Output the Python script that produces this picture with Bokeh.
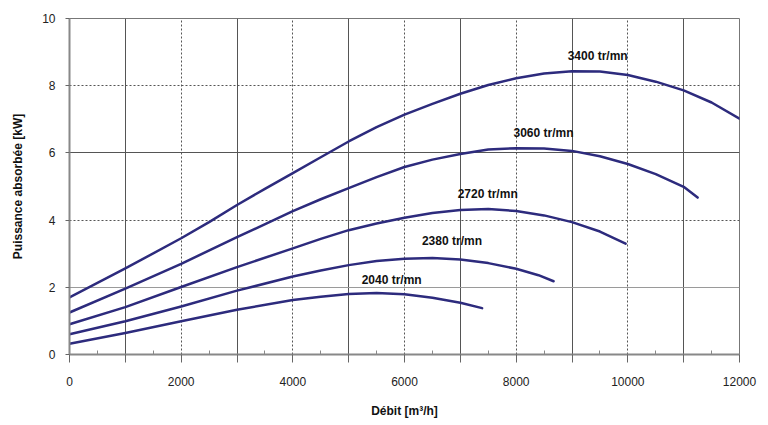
from bokeh.plotting import figure
from bokeh.models import Range1d, FixedTicker, Grid, ColumnDataSource
from bokeh.core.properties import value
from bokeh.embed import file_html
from bokeh.resources import INLINE

# ---- data ----
speeds = ["3400 tr/mn", "3060 tr/mn", "2720 tr/mn", "2380 tr/mn", "2040 tr/mn"]

x_3400 = [0, 1000, 2000, 2500, 3000, 3500, 4000, 4500, 5000, 5500, 6000, 6500, 7000, 7500, 8000, 8500, 9000, 9500, 10000, 10500, 11000, 11500, 12000]
p_3400 = [1.70, 2.56, 3.46, 3.94, 4.45, 4.93, 5.40, 5.87, 6.34, 6.77, 7.14, 7.46, 7.76, 8.02, 8.22, 8.36, 8.43, 8.42, 8.32, 8.12, 7.86, 7.50, 7.02]

x_3060 = [0, 1000, 2000, 3000, 4000, 4500, 5000, 5500, 6000, 6500, 7000, 7500, 8000, 8500, 9000, 9500, 10000, 10500, 11000, 11250]
p_3060 = [1.25, 1.96, 2.70, 3.49, 4.27, 4.62, 4.95, 5.28, 5.58, 5.80, 5.97, 6.10, 6.14, 6.13, 6.06, 5.90, 5.67, 5.37, 4.99, 4.67]

x_2720 = [0, 1000, 2000, 3000, 4000, 4500, 5000, 5500, 6000, 6500, 7000, 7500, 8000, 8500, 9000, 9500, 9960]
p_2720 = [0.90, 1.41, 2.01, 2.60, 3.16, 3.44, 3.70, 3.90, 4.07, 4.21, 4.30, 4.33, 4.27, 4.14, 3.94, 3.66, 3.30]

x_2380 = [0, 1000, 2000, 3000, 4000, 4500, 5000, 5500, 6000, 6500, 7000, 7500, 8000, 8400, 8670]
p_2380 = [0.60, 0.99, 1.43, 1.90, 2.32, 2.50, 2.66, 2.78, 2.85, 2.87, 2.83, 2.72, 2.55, 2.36, 2.18]

x_2040 = [0, 1000, 2000, 3000, 4000, 4500, 5000, 5500, 6000, 6500, 7000, 7390]
p_2040 = [0.32, 0.64, 0.99, 1.33, 1.62, 1.72, 1.80, 1.83, 1.79, 1.69, 1.54, 1.38]

label_x = [9460, 8490, 7490, 6850, 5770]
label_y = [8.87, 6.58, 4.79, 3.37, 2.22]

x_ticks = [0, 1000, 2000, 3000, 4000, 5000, 6000, 7000, 8000, 9000, 10000, 11000, 12000]
x_tick_labels = ["0", "", "2000", "", "4000", "", "6000", "", "8000", "", "10000", "", "12000"]
x_minor = [500, 1500, 2500, 3500, 4500, 5500, 6500, 7500, 8500, 9500, 10500, 11500]
y_ticks = [0, 2, 4, 6, 8, 10]

x_title = "Débit [m³/h]"
y_title = "Puissance absorbée [kW]"

# ---- figure ----
p = figure(width=768, height=425, output_backend="svg", toolbar_location=None,
           x_range=Range1d(0, 12000), y_range=Range1d(0, 10),
           min_border_left=69, min_border_right=29, min_border_top=18, min_border_bottom=71)
p.background_fill_color = "white"
p.border_fill_color = "white"
p.outline_line_color = "#777777"
p.outline_line_width = 1

p.xgrid.visible = False
p.ygrid.visible = False

solid_x = [t for t in x_ticks if t % 2000 == 1000]
dot_x = [t for t in x_ticks if t % 2000 == 0 and 0 < t < 12000]
dot_y = [4, 8]

p.add_layout(Grid(dimension=0, ticker=FixedTicker(ticks=solid_x), grid_line_color="#555555", grid_line_width=1))
p.add_layout(Grid(dimension=0, ticker=FixedTicker(ticks=dot_x), grid_line_color="#555555", grid_line_width=1, grid_line_dash="2 2"))
p.add_layout(Grid(dimension=1, ticker=FixedTicker(ticks=[6]), grid_line_color="#555555", grid_line_width=1))
p.add_layout(Grid(dimension=1, ticker=FixedTicker(ticks=[2]), grid_line_color="#9a9a9a", grid_line_width=1))
p.add_layout(Grid(dimension=1, ticker=FixedTicker(ticks=dot_y), grid_line_color="#555555", grid_line_width=1, grid_line_dash="2 2"))

xa = p.xaxis[0]
xa.ticker = FixedTicker(ticks=x_ticks, minor_ticks=x_minor)
xa.major_label_overrides = {t: l for t, l in zip(x_ticks, x_tick_labels)}
xa.axis_line_color = "#888888"
xa.axis_line_width = 2
xa.major_tick_line_color = "#666666"
xa.major_tick_out = 8
xa.major_tick_in = 0
xa.minor_tick_line_color = "#888888"
xa.minor_tick_in = 4
xa.minor_tick_out = 0
xa.major_label_standoff = 14
xa.major_label_text_font = "Liberation Sans"
xa.major_label_text_font_size = "12px"
xa.major_label_text_color = "#222222"
xa.axis_label = x_title
xa.axis_label_text_font = "Liberation Sans"
xa.axis_label_text_font_style = "bold"
xa.axis_label_text_font_size = "12px"
xa.axis_label_text_color = "#111111"
xa.axis_label_standoff = 15

ya = p.yaxis[0]
ya.ticker = FixedTicker(ticks=y_ticks)
ya.axis_line_color = "#888888"
ya.axis_line_width = 2
ya.major_tick_line_color = "#666666"
ya.major_tick_out = 4
ya.major_tick_in = 0
ya.minor_tick_line_color = None
ya.major_label_standoff = 10
ya.major_label_text_font = "Liberation Sans"
ya.major_label_text_font_size = "12px"
ya.major_label_text_color = "#222222"
ya.axis_label = y_title
ya.axis_label_text_font = "Liberation Sans"
ya.axis_label_text_font_style = "bold"
ya.axis_label_text_font_size = "12px"
ya.axis_label_text_color = "#111111"
ya.axis_label_standoff = 14

curve_color = "#2d2b7d"
for xs, ys in [(x_3400, p_3400), (x_3060, p_3060), (x_2720, p_2720), (x_2380, p_2380), (x_2040, p_2040)]:
    p.line(xs, ys, line_color=curve_color, line_width=2.5, line_join="round", line_cap="round")

src = ColumnDataSource(dict(x=label_x, y=label_y, t=speeds))
p.text(x="x", y="y", text="t", source=src, text_align="center", text_baseline="middle",
       text_font=value("Liberation Sans"), text_font_style="bold", text_font_size="12px",
       text_color="#111111")

open("out.html", "w").write(file_html(p, INLINE))
